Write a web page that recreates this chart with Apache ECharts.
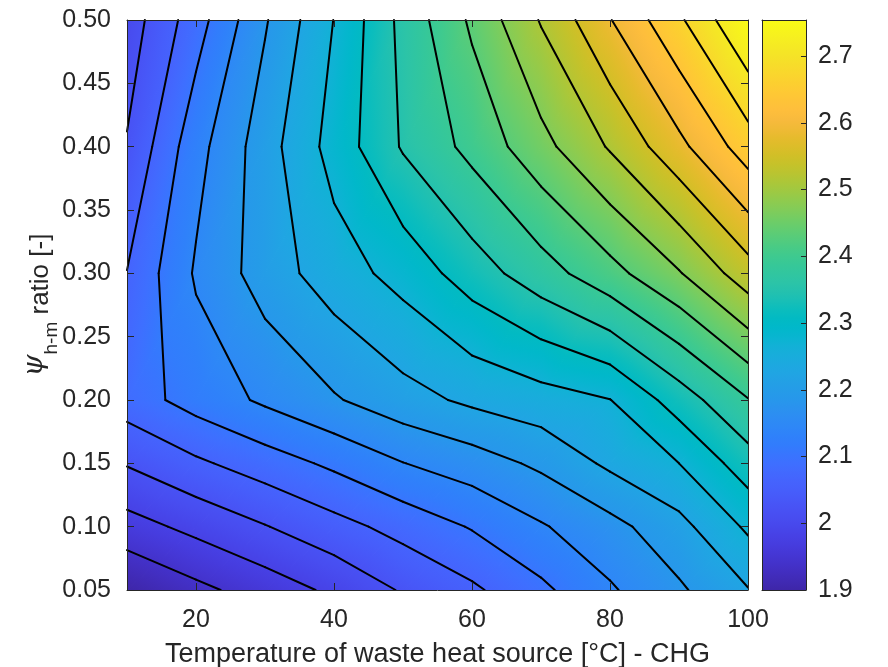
<!DOCTYPE html>
<html>
<head>
<meta charset="utf-8">
<title>COP map - CHG</title>
<script src="https://cdn.jsdelivr.net/npm/echarts@6/dist/echarts.min.js"></script>
<style>
  html, body { margin: 0; padding: 0; background: #fff; }
  #main { width: 888px; height: 667px; }
</style>
</head>
<body>
<div id="main"></div>
<script>
// surface grid: temperature of the waste heat source (x) and psi h-m ratio (y)
var tempX = [10, 20, 30, 40, 50, 60, 70, 80, 90, 100];
var psiY = [0.05, 0.10, 0.15, 0.20, 0.30, 0.40, 0.50];

// one row of values per psiY entry, one value per tempX entry
var rowPsi005 = [1.900, 1.931, 1.959, 1.989, 2.026, 2.056, 2.094, 2.139, 2.179, 2.223];
var rowPsi010 = [1.965, 1.992, 2.020, 2.049, 2.077, 2.106, 2.140, 2.172, 2.212, 2.273];
var rowPsi015 = [2.025, 2.056, 2.083, 2.111, 2.143, 2.165, 2.193, 2.233, 2.266, 2.329];
var rowPsi020 = [2.083, 2.119, 2.151, 2.181, 2.210, 2.233, 2.249, 2.265, 2.326, 2.386];
var rowPsi030 = [2.064, 2.149, 2.204, 2.246, 2.281, 2.327, 2.370, 2.415, 2.466, 2.533];
var rowPsi040 = [2.025, 2.129, 2.207, 2.282, 2.351, 2.400, 2.456, 2.514, 2.580, 2.653];
var rowPsi050 = [2.000, 2.085, 2.181, 2.267, 2.359, 2.436, 2.513, 2.589, 2.666, 2.754];
var zRows = [rowPsi005, rowPsi010, rowPsi015, rowPsi020, rowPsi030, rowPsi040, rowPsi050];

// contour levels drawn as black lines
var contourLevels = [1.941, 1.981, 2.022, 2.063, 2.103, 2.144, 2.185, 2.225, 2.266, 2.307,
                     2.347, 2.388, 2.429, 2.469, 2.510, 2.551, 2.591, 2.632, 2.673, 2.713];

// colour limits and tick labels
var zMin = 1.9, zMax = 2.754;
var xTicks = [20, 40, 60, 80, 100];
var yTicks = [0.05, 0.10, 0.15, 0.20, 0.25, 0.30, 0.35, 0.40, 0.45, 0.50];
var cbTicks = [1.9, 2.0, 2.1, 2.2, 2.3, 2.4, 2.5, 2.6, 2.7];

// parula colormap (64 steps)
var parula = [
  [0.2422,0.1504,0.6603],[0.2504,0.1650,0.7076],[0.2578,0.1818,0.7511],[0.2647,0.1978,0.7952],
  [0.2706,0.2147,0.8364],[0.2751,0.2342,0.8710],[0.2783,0.2559,0.8991],[0.2803,0.2782,0.9221],
  [0.2813,0.3006,0.9414],[0.2810,0.3228,0.9579],[0.2795,0.3447,0.9717],[0.2760,0.3667,0.9829],
  [0.2699,0.3892,0.9906],[0.2602,0.4123,0.9952],[0.2440,0.4358,0.9988],[0.2206,0.4603,0.9973],
  [0.1963,0.4847,0.9892],[0.1834,0.5074,0.9798],[0.1786,0.5289,0.9682],[0.1764,0.5499,0.9520],
  [0.1687,0.5703,0.9359],[0.1540,0.5902,0.9218],[0.1460,0.6091,0.9079],[0.1380,0.6276,0.8973],
  [0.1248,0.6459,0.8883],[0.1113,0.6635,0.8763],[0.0952,0.6798,0.8598],[0.0689,0.6948,0.8394],
  [0.0297,0.7082,0.8163],[0.0036,0.7203,0.7917],[0.0067,0.7312,0.7660],[0.0433,0.7411,0.7394],
  [0.0964,0.7500,0.7120],[0.1408,0.7584,0.6842],[0.1717,0.7670,0.6554],[0.1938,0.7758,0.6251],
  [0.2161,0.7843,0.5923],[0.2470,0.7918,0.5567],[0.2906,0.7973,0.5188],[0.3406,0.8008,0.4789],
  [0.3909,0.8029,0.4354],[0.4456,0.8024,0.3909],[0.5044,0.7993,0.3480],[0.5616,0.7942,0.3045],
  [0.6174,0.7876,0.2612],[0.6720,0.7793,0.2227],[0.7242,0.7698,0.1910],[0.7738,0.7598,0.1646],
  [0.8203,0.7498,0.1535],[0.8634,0.7406,0.1596],[0.9035,0.7330,0.1774],[0.9393,0.7288,0.2100],
  [0.9728,0.7298,0.2394],[0.9956,0.7434,0.2371],[0.9970,0.7659,0.2199],[0.9952,0.7893,0.2028],
  [0.9892,0.8136,0.1885],[0.9786,0.8386,0.1766],[0.9676,0.8639,0.1643],[0.9610,0.8890,0.1537],
  [0.9597,0.9135,0.1423],[0.9628,0.9373,0.1265],[0.9691,0.9606,0.1064],[0.9769,0.9839,0.0805]
];

var FONT = 'Liberation Sans, Arial, Helvetica, sans-serif';
var INK = '#262626';

function rgb(c) {
  return 'rgb(' + Math.round(c[0] * 255) + ',' + Math.round(c[1] * 255) + ',' + Math.round(c[2] * 255) + ')';
}

// colour stops covering the whole colour range [zMin, zMax]
var paletteStops = parula.map(function (c, k) {
  return { offset: k / (parula.length - 1), color: rgb(c) };
});

function valueColor(v) {
  var t = (v - zMin) / (zMax - zMin);
  t = Math.max(0, Math.min(1, t));
  var pos = t * (parula.length - 1);
  var k = Math.min(Math.floor(pos), parula.length - 2);
  var f = pos - k;
  var a = parula[k], b = parula[k + 1];
  return rgb([a[0] + (b[0] - a[0]) * f, a[1] + (b[1] - a[1]) * f, a[2] + (b[2] - a[2]) * f]);
}

// triangles of the grid, as [i, j] node pairs
var triangles = [];
for (var j = 0; j < psiY.length - 1; j++) {
  for (var i = 0; i < tempX.length - 1; i++) {
    triangles.push([[i, j], [i + 1, j], [i + 1, j + 1]]);
    triangles.push([[i, j], [i + 1, j + 1], [i, j + 1]]);
  }
}
var triData = triangles.map(function (t, n) {
  return [tempX[t[1][0]], psiY[t[1][1]], n];
});

// linear shading over a triangle: the value is linear there, so the colour
// only changes along its gradient; the gradient spans the full colour range
function triFill(p, v) {
  var e1x = p[1][0] - p[0][0], e1y = p[1][1] - p[0][1];
  var e2x = p[2][0] - p[0][0], e2y = p[2][1] - p[0][1];
  var d1 = v[1] - v[0], d2 = v[2] - v[0];
  var det = e1x * e2y - e1y * e2x;
  var gx = (d1 * e2y - e1y * d2) / det;
  var gy = (e1x * d2 - d1 * e2x) / det;
  var g2 = gx * gx + gy * gy;
  if (!isFinite(g2) || g2 < 1e-14) return valueColor((v[0] + v[1] + v[2]) / 3);
  return {
    type: 'linear', global: true,
    x: p[0][0] + gx * (zMin - v[0]) / g2, y: p[0][1] + gy * (zMin - v[0]) / g2,
    x2: p[0][0] + gx * (zMax - v[0]) / g2, y2: p[0][1] + gy * (zMax - v[0]) / g2,
    colorStops: paletteStops
  };
}

// marching squares: straight segments inside each grid cell
var segments = [];
contourLevels.forEach(function (L) {
  for (var j = 0; j < psiY.length - 1; j++) {
    for (var i = 0; i < tempX.length - 1; i++) {
      var c = [[i, j], [i + 1, j], [i + 1, j + 1], [i, j + 1]];
      var val = c.map(function (n) { return zRows[n[1]][n[0]] - L; });
      var pts = [];
      for (var e = 0; e < 4; e++) {
        var a = e, b = (e + 1) % 4;
        if ((val[a] >= 0) !== (val[b] >= 0)) {
          var t = val[a] / (val[a] - val[b]);
          var xa = tempX[c[a][0]], ya = psiY[c[a][1]], xb = tempX[c[b][0]], yb = psiY[c[b][1]];
          pts[e] = [xa + t * (xb - xa), ya + t * (yb - ya)];
        }
      }
      var hit = [];
      for (var e2 = 0; e2 < 4; e2++) if (pts[e2]) hit.push(e2);
      if (hit.length === 2) {
        segments.push(pts[hit[0]].concat(pts[hit[1]]));
      } else if (hit.length === 4) {
        var centre = (val[0] + val[1] + val[2] + val[3]) / 4;
        if ((centre >= 0) === (val[0] >= 0)) {
          segments.push(pts[0].concat(pts[1]), pts[2].concat(pts[3]));
        } else {
          segments.push(pts[3].concat(pts[0]), pts[1].concat(pts[2]));
        }
      }
    }
  }
});

var chart = echarts.init(document.getElementById('main'), null, { renderer: 'canvas' });

var tickStyle = { color: INK, width: 1 };
var lineStyle = { color: INK, width: 1 };

chart.setOption({
  animation: false,
  backgroundColor: '#ffffff',
  grid: [
    { left: 127, top: 20, width: 621, height: 570, show: false, containLabel: false, outerBoundsMode: 'none' },
    { left: 762, top: 20, width: 44, height: 570, show: false, containLabel: false, outerBoundsMode: 'none' }
  ],
  xAxis: [
    {
      gridIndex: 0, type: 'value', min: 10, max: 100, position: 'bottom', z: 5,
      axisLine: { show: true, onZero: false, lineStyle: lineStyle },
      axisTick: { show: true, inside: true, length: 7, customValues: xTicks, lineStyle: tickStyle },
      axisLabel: { customValues: xTicks, fontSize: 25, color: INK, fontFamily: FONT, margin: 18 },
      splitLine: { show: false },
      name: 'Temperature of waste heat source [°C] - CHG',
      nameLocation: 'middle', nameGap: 51, nameMoveOverlap: false,
      nameTextStyle: { fontSize: 27, color: INK, fontFamily: FONT }
    },
    {
      gridIndex: 0, type: 'value', min: 10, max: 100, position: 'top', z: 5,
      axisLine: { show: true, onZero: false, lineStyle: lineStyle },
      axisTick: { show: true, inside: true, length: 7, customValues: xTicks, lineStyle: tickStyle },
      axisLabel: { show: false },
      splitLine: { show: false }
    },
    {
      gridIndex: 1, type: 'value', min: 0, max: 1, position: 'bottom', z: 5,
      axisLine: { show: true, onZero: false, lineStyle: lineStyle },
      axisTick: { show: false }, axisLabel: { show: false }, splitLine: { show: false }
    },
    {
      gridIndex: 1, type: 'value', min: 0, max: 1, position: 'top', z: 5,
      axisLine: { show: true, onZero: false, lineStyle: lineStyle },
      axisTick: { show: false }, axisLabel: { show: false }, splitLine: { show: false }
    }
  ],
  yAxis: [
    {
      gridIndex: 0, type: 'value', min: 0.05, max: 0.5, position: 'left', z: 5,
      axisLine: { show: true, onZero: false, lineStyle: lineStyle },
      axisTick: { show: true, inside: true, length: 7, customValues: yTicks, lineStyle: tickStyle },
      axisLabel: {
        customValues: yTicks, fontSize: 25, color: INK, fontFamily: FONT, margin: 16,
        formatter: function (v) { return v.toFixed(2); }
      },
      splitLine: { show: false },
      name: '{psi|ψ}{sub|h-m}{txt| ratio [-]}',
      nameLocation: 'middle', nameGap: 66, nameMoveOverlap: false,
      nameTextStyle: {
        color: INK, fontFamily: FONT, fontSize: 26,
        rich: {
          psi: { fontSize: 28, fontStyle: 'italic', fontFamily: 'DejaVu Serif, serif', color: INK, lineHeight: 20, verticalAlign: 'top' },
          sub: { fontSize: 19, fontFamily: FONT, color: INK, lineHeight: 20, verticalAlign: 'bottom' },
          txt: { fontSize: 26, fontFamily: FONT, color: INK, lineHeight: 40, verticalAlign: 'middle' }
        }
      }
    },
    {
      gridIndex: 0, type: 'value', min: 0.05, max: 0.5, position: 'right', z: 5,
      axisLine: { show: true, onZero: false, lineStyle: lineStyle },
      axisTick: { show: true, inside: true, length: 7, customValues: yTicks, lineStyle: tickStyle },
      axisLabel: { show: false },
      splitLine: { show: false }
    },
    {
      gridIndex: 1, type: 'value', min: zMin, max: zMax, position: 'right', z: 5,
      axisLine: { show: true, onZero: false, lineStyle: lineStyle },
      axisTick: { show: true, inside: true, length: 5, customValues: cbTicks, lineStyle: tickStyle },
      axisLabel: {
        customValues: cbTicks, fontSize: 25, color: INK, fontFamily: FONT, margin: 12,
        formatter: function (v) { return String(+v.toFixed(1)); }
      },
      splitLine: { show: false }
    },
    {
      gridIndex: 1, type: 'value', min: zMin, max: zMax, position: 'left', z: 5,
      axisLine: { show: true, onZero: false, lineStyle: lineStyle },
      axisTick: { show: false }, axisLabel: { show: false }, splitLine: { show: false }
    }
  ],
  series: [
    {
      name: 'surface',
      type: 'custom',
      coordinateSystem: 'cartesian2d',
      xAxisIndex: 0, yAxisIndex: 0,
      z: 1,
      silent: true,
      clip: true,
      data: triData,
      renderItem: function (params, api) {
        var tri = triangles[params.dataIndex];
        var p = tri.map(function (n) { return api.coord([tempX[n[0]], psiY[n[1]]]); });
        var v = tri.map(function (n) { return zRows[n[1]][n[0]]; });
        var fill = triFill(p, v);
        return {
          type: 'polygon',
          shape: { points: p },
          style: { fill: fill, stroke: fill, lineWidth: 1.2, lineJoin: 'round' }
        };
      }
    },
    {
      name: 'contours',
      type: 'custom',
      coordinateSystem: 'cartesian2d',
      xAxisIndex: 0, yAxisIndex: 0,
      z: 3,
      silent: true,
      data: segments,
      renderItem: function (params, api) {
        var p1 = api.coord([api.value(0), api.value(1)]);
        var p2 = api.coord([api.value(2), api.value(3)]);
        return {
          type: 'line',
          shape: { x1: p1[0], y1: p1[1], x2: p2[0], y2: p2[1] },
          style: { stroke: '#000000', lineWidth: 2, lineCap: 'round' }
        };
      }
    },
    {
      name: 'colorbar',
      type: 'custom',
      coordinateSystem: 'cartesian2d',
      xAxisIndex: 2, yAxisIndex: 2,
      z: 1,
      silent: true,
      data: [[0.5, (zMin + zMax) / 2]],
      renderItem: function (params, api) {
        var p0 = api.coord([0, zMin]);
        var p1 = api.coord([1, zMax]);
        return {
          type: 'rect',
          shape: { x: p0[0], y: p1[1], width: p1[0] - p0[0], height: p0[1] - p1[1] },
          style: {
            fill: { type: 'linear', x: 0, y: 1, x2: 0, y2: 0, colorStops: paletteStops }
          }
        };
      }
    }
  ]
});
</script>
</body>
</html>
